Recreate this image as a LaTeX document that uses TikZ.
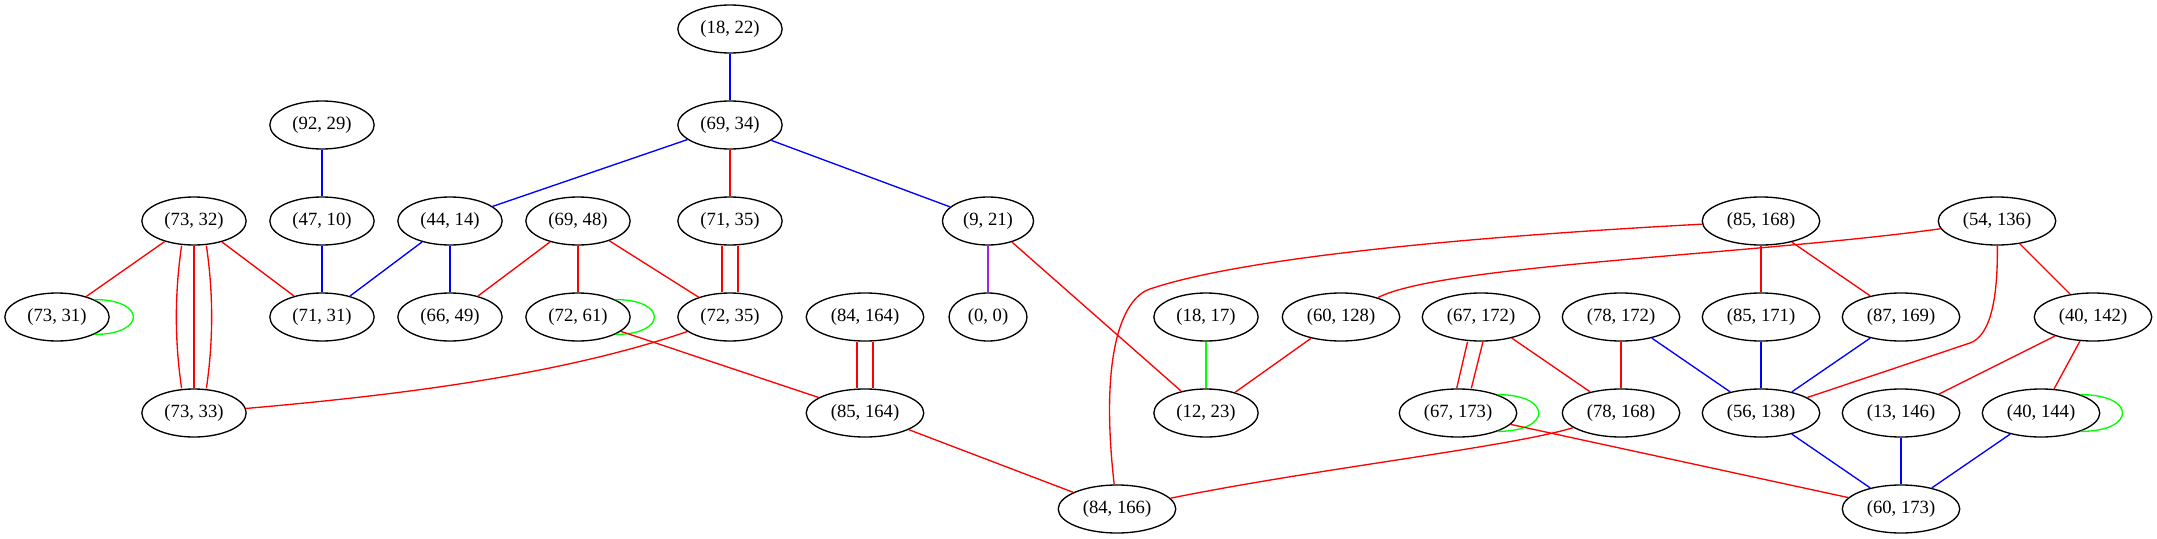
\documentclass[tikz,border=0pt]{standalone}
\usepackage{fontspec}
\setmainfont{Liberation Serif}
\usetikzlibrary{shapes.geometric}
\definecolor{eR}{RGB}{255,0,0}
\definecolor{eB}{RGB}{0,0,255}
\definecolor{eG}{RGB}{0,255,0}
\definecolor{eP}{RGB}{160,32,240}
\begin{document}
\begin{tikzpicture}[x=0.75pt,y=-0.75pt,
  vtx/.style={draw=black, ellipse, line width=1pt, minimum height=36pt,
    inner xsep=5.5pt, inner ysep=2pt, font=\fontsize{14}{16}\selectfont},
  er/.style={draw=eR, line width=1pt},
  eb/.style={draw=eB, line width=1pt},
  eg/.style={draw=eG, line width=1pt},
  ep/.style={draw=eP, line width=1pt}]
\useasboundingbox (0,0) rectangle (2157,539);
% nodes
\node[vtx] (n1822) at (730,29) {(18, 22)};
\node[vtx] (n9229) at (322,125) {(92, 29)};
\node[vtx] (n6934) at (730,125) {(69, 34)};
\node[vtx] (n7332) at (194,221) {(73, 32)};
\node[vtx] (n4710) at (322,221) {(47, 10)};
\node[vtx] (n4414) at (450,221) {(44, 14)};
\node[vtx] (n6948) at (578,221) {(69, 48)};
\node[vtx] (n7135) at (730,221) {(71, 35)};
\node[vtx] (n921) at (988,221) {(9, 21)};
\node[vtx] (n85168) at (1761,221) {(85, 168)};
\node[vtx] (n54136) at (1997,221) {(54, 136)};
\node[vtx] (n7331) at (57,317) {(73, 31)};
\node[vtx] (n7131) at (322,317) {(71, 31)};
\node[vtx] (n6649) at (450,317) {(66, 49)};
\node[vtx] (n7261) at (578,317) {(72, 61)};
\node[vtx] (n7235) at (730,317) {(72, 35)};
\node[vtx] (n84164) at (865,317) {(84, 164)};
\node[vtx] (n00) at (988,317) {(0, 0)};
\node[vtx] (n1817) at (1206,317) {(18, 17)};
\node[vtx] (n60128) at (1341,317) {(60, 128)};
\node[vtx] (n67172) at (1481,317) {(67, 172)};
\node[vtx] (n78172) at (1621,317) {(78, 172)};
\node[vtx] (n85171) at (1761,317) {(85, 171)};
\node[vtx] (n87169) at (1901,317) {(87, 169)};
\node[vtx] (n40142) at (2093,317) {(40, 142)};
\node[vtx] (n7333) at (194,413) {(73, 33)};
\node[vtx] (n85164) at (865,413) {(85, 164)};
\node[vtx] (n1223) at (1206,413) {(12, 23)};
\node[vtx] (n67173) at (1458,413) {(67, 173)};
\node[vtx] (n78168) at (1621,413) {(78, 168)};
\node[vtx] (n56138) at (1761,413) {(56, 138)};
\node[vtx] (n13146) at (1901,413) {(13, 146)};
\node[vtx] (n40144) at (2041,413) {(40, 144)};
\node[vtx] (n84166) at (1117,509) {(84, 166)};
\node[vtx] (n60173) at (1901,509) {(60, 173)};
% edges
\draw[eb] (n1822) -- (n6934);
\draw[eb] (n9229) -- (n4710);
\draw[eb] (n6934) -- (n4414);
\draw[er] (n6934) -- (n7135);
\draw[eb] (n6934) -- (n921);
\draw[er] (n7332) -- (n7331);
\draw[er] (n7332) -- (n7333);
\draw[er] ([xshift=-9.3pt]n7332.south) .. controls +(-7,48) and +(-7,-48) .. ([xshift=-9.3pt]n7333.north);
\draw[er] ([xshift=9.3pt]n7332.south) .. controls +(7,48) and +(7,-48) .. ([xshift=9.3pt]n7333.north);
\draw[er] (n7332) -- (n7131);
\draw[eb] (n4710) -- (n7131);
\draw[eb] (n4414) -- (n7131);
\draw[eb] (n4414) -- (n6649);
\draw[er] (n6948) -- (n6649);
\draw[er] (n6948) -- (n7261);
\draw[er] (n6948) -- (n7235);
\draw[er] ([xshift=-6pt]n7135.south) -- ([xshift=-6pt]n7235.north);
\draw[er] ([xshift=6pt]n7135.south) -- ([xshift=6pt]n7235.north);
\draw[ep] (n921) -- (n00);
\draw[er] (n921) -- (n1223);
\draw[eg] (n7331.25) .. controls +(52,0) and +(52,0) .. (n7331.-25);
\draw[eg] (n7261.25) .. controls +(52,0) and +(52,0) .. (n7261.-25);
\draw[er] (n7261) -- (n85164);
\draw[er] (n7235) .. controls (560,375) and (400,395) .. (n7333);
\draw[er] ([xshift=-6pt]n84164.south) -- ([xshift=-6pt]n85164.north);
\draw[er] ([xshift=6pt]n84164.south) -- ([xshift=6pt]n85164.north);
\draw[er] (n85164) -- (n84166);
\draw[eg] (n1817) -- (n1223);
\draw[er] (n60128) -- (n1223);
\draw[er] (n85168) .. controls (1500,235) and (1250,255) .. (1150,289) .. controls (1120,299) and (1100,360) .. (n84166);
\draw[er] (n85168) -- (n85171);
\draw[er] (n85168) -- (n87169);
\draw[er] (n54136) .. controls (1750,255) and (1440,265) .. (n60128);
\draw[er] (n54136) .. controls (1998,300) and (1990,336) .. (1970,343) -- (n56138);
\draw[er] (n54136) -- (n40142);
\draw[er] ([xshift=-10.1pt]n67172.south) -- ([xshift=-1pt]n67173.north);
\draw[er] ([xshift=1.5pt]n67172.south) -- ([xshift=10pt]n67173.north);
\draw[er] (n67172) -- (n78168);
\draw[er] (n78172) -- (n78168);
\draw[eb] (n78172) -- (n56138);
\draw[eb] (n85171) -- (n56138);
\draw[eb] (n87169) -- (n56138);
\draw[er] (n40142) -- (n13146);
\draw[er] (n40142) -- (n40144);
\draw[eg] (n67173.25) .. controls +(55,0) and +(55,0) .. (n67173.-25);
\draw[er] (n78168) .. controls (1510,447) and (1320,468) .. (n84166);
\draw[er] (n67173) -- (n60173);
\draw[eb] (n56138) -- (n60173);
\draw[eb] (n13146) -- (n60173);
\draw[eb] (n40144) -- (n60173);
\draw[eg] (n40144.25) .. controls +(56,0) and +(56,0) .. (n40144.-25);
\end{tikzpicture}
\end{document}
